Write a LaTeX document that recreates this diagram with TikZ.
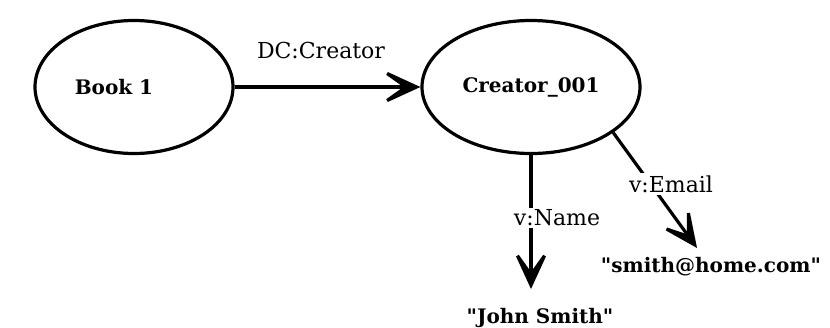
\documentclass[tikz,border=0pt]{standalone}
\usepackage{fontspec}
\setmainfont{DejaVu Serif}[Ligatures=TeXOff]
\usetikzlibrary{arrows.meta,shapes.geometric}
\tikzset{
  valtip/.tip={Stealth[length=48pt,width=44pt,inset=31pt]}
}
\begin{document}
\begin{tikzpicture}[x=1pt,y=-1pt,
  res/.style={draw=black,line width=3.2pt,ellipse,minimum width=#1,minimum height=133pt,inner sep=0pt,
    font=\fontsize{20}{24}\selectfont\bfseries},
  lit/.style={inner sep=0pt,font=\fontsize{20}{24}\selectfont\bfseries},
  prop/.style={line width=3.2pt,-valtip},
  plabel/.style={fill=white,inner sep=2pt,font=\fontsize{22}{26}\selectfont}]
  \useasboundingbox[fill=white] (0,0) rectangle (830,327);

  % resources
  \node[res=198pt] (book) at (134,87) {Book 1\hspace*{40pt}};
  \node[res=218pt] (creator) at (531,87) {Creator\_001};

  % literal values
  \node[lit] (name) at (540,318) {"John Smith"};
  \node[lit] (email) at (711,267) {"smith@home.com"};
  \coordinate (nameEnd) at (531,289);
  \coordinate (emailEnd) at (697,248);

  % properties
  \draw[prop] (book.east) -- (creator.west);
  \node[font=\fontsize{22}{26}\selectfont] (dc) at (321,50) {DC:Creator};

  \draw[prop] (creator.south) -- (nameEnd);
  \node[plabel] (vname) at (557,218) {v:Name};

  \draw[prop] (creator.-29) -- (emailEnd);
  \node[plabel] (vemail) at (671,184) {v:Email};
\end{tikzpicture}
\end{document}
